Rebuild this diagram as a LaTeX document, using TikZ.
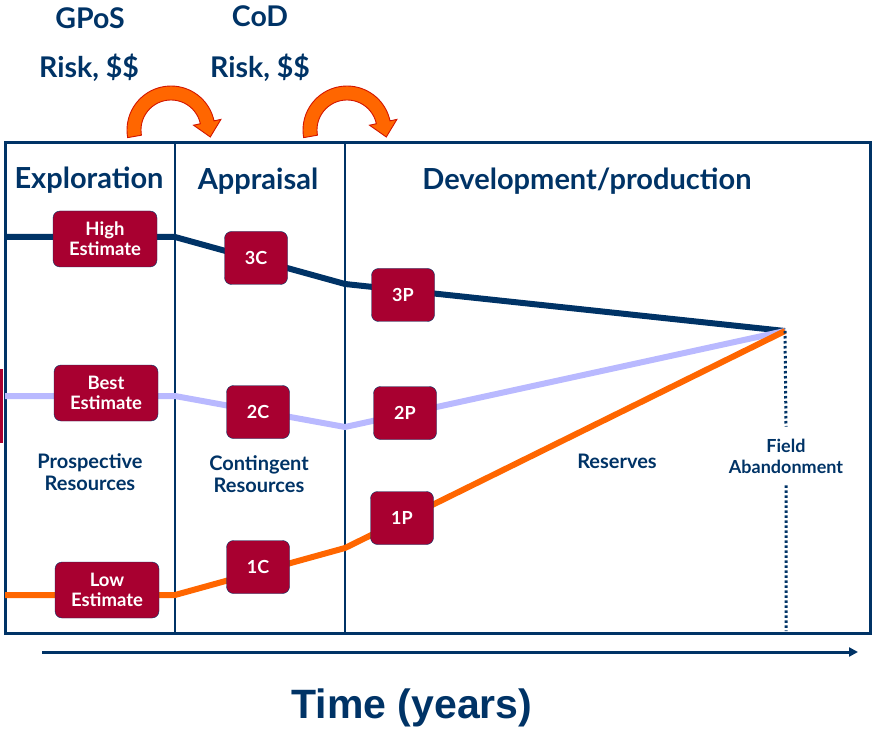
\documentclass[tikz,border=0pt]{standalone}
\usepackage{fontspec}
\setmainfont{Lato}
\newfontfamily\arialfont{Liberation Sans}
\usetikzlibrary{arrows.meta}
\definecolor{navy}{RGB}{0,51,102}
\definecolor{crimson}{RGB}{168,0,48}
\definecolor{lavender}{RGB}{185,185,255}
\definecolor{fireorange}{RGB}{255,102,0}
\definecolor{arrowred}{RGB}{210,20,0}
\begin{document}
\begin{tikzpicture}[x=1pt, y=-1pt,
  every node/.style = {text=navy, align=center, font=\bfseries},
  est/.style = {shape=rectangle, rounded corners=7pt, draw=navy,
    fill=crimson, text=white, minimum width=104pt, minimum height=56pt,
    font=\bfseries\fontsize{18.5}{20}\selectfont},
  cls/.style = {est, minimum width=63pt, minimum height=53pt,
    font=\bfseries\fontsize{18}{20}\selectfont},
  head/.style = {font=\bfseries\fontsize{29}{31}\selectfont},
  gate/.style = {font=\bfseries\fontsize{28.5}{31}\selectfont},
  restext/.style = {font=\bfseries\fontsize{20}{22.5}\selectfont},
  curve/.style = {line width=6pt},
  bendarrow/.style = {fill=fireorange, draw=arrowred, line width=0.9pt}]
  \useasboundingbox (0,0) rectangle (873,735);
  \fill[crimson] (0,369) rectangle (3,443);

  % frame and phases
  \draw[navy, line width=3pt] (5,143) rectangle (870,633);
  \draw[navy, line width=2.5pt] (175,143) -- (175,633) (345,143) -- (345,633);
  \node[head] (expl) at (89,180) {Exploration};
  \node[head] (appr) at (258,181) {Appraisal};
  \node[head] (devp) at (587,181) {Development/production};

  % decision gates
  \node[gate] (gpos) at (90,18) {GPoS};
  \node[gate] (risk1) at (89,68) {Risk, \$\$};
  \node[gate] (cod) at (260,16) {CoD};
  \node[gate] (risk2) at (260,68) {Risk, \$\$};
  \foreach \dx in {0,176}
    \filldraw[bendarrow, shift={(\dx,0)}]
      plot[domain=170:348, samples=40] ({171+44*cos(\x)}, {130+44*sin(\x)})
      -- (220.9,119.4) -- (210.3,137) -- (193.5,125.2)
      -- plot[domain=348:170, samples=40] ({171+30*cos(\x)}, {130+30*sin(\x)})
      -- cycle;

  % estimate lines
  \coordinate (hiL) at (5,237);   \coordinate (hiM) at (175,237);  \coordinate (hiR) at (345,284);
  \coordinate (beL) at (5,396);   \coordinate (beM) at (175,396);  \coordinate (beR) at (345,427);
  \coordinate (loL) at (5,595);   \coordinate (loM) at (175,595);  \coordinate (loR) at (345,548);
  \coordinate (abandon) at (785,331);
  \coordinate (floor) at (786,631);
  \draw[curve, navy] (hiL) -- (hiM) -- (hiR) -- (abandon);
  \draw[curve, lavender] (beL) -- (beM) -- (beR) -- (abandon);
  \draw[curve, fireorange] (loL) -- (loM) -- (loR) -- (abandon);

  \node[est] (hi) at (105,239) {High\\Estimate};
  \node[est] (best) at (106,393) {Best\\Estimate};
  \node[est] (low) at (107,590) {Low\\Estimate};
  \node[cls] (c3) at (256,258) {3C};
  \node[cls] (c2) at (258,412) {2C};
  \node[cls] (c1) at (258,567) {1C};
  \node[cls] (p3) at (403,295) {3P};
  \node[cls] (p2) at (405,413) {2P};
  \node[cls] (p1) at (402,518) {1P};

  \node[restext] (pros) at (90,472) {Prospective\\Resources};
  \node[restext] (cont) at (259,474) {Contingent\\Resources};
  \node[restext] (res) at (617,461) {Reserves};
  \node[font=\bfseries\fontsize{18}{21}\selectfont, inner ysep=12pt] (fa) at (786,456)
    {Field\\Abandonment};
  \draw[navy, line width=3pt, dash pattern=on 2.5pt off 2.5pt] (abandon) -- (fa.north)
    (fa.south) -- (floor);

  % time axis
  \coordinate (t0) at (42,652);
  \coordinate (t1) at (858,652);
  \draw[navy, line width=3pt, -{Triangle[length=9pt, width=9pt]}] (t0) -- (t1);
  \node[font=\arialfont\bfseries\fontsize{41}{43}\selectfont] (time) at (412,708)
    {Time (years)};
\end{tikzpicture}
\end{document}
